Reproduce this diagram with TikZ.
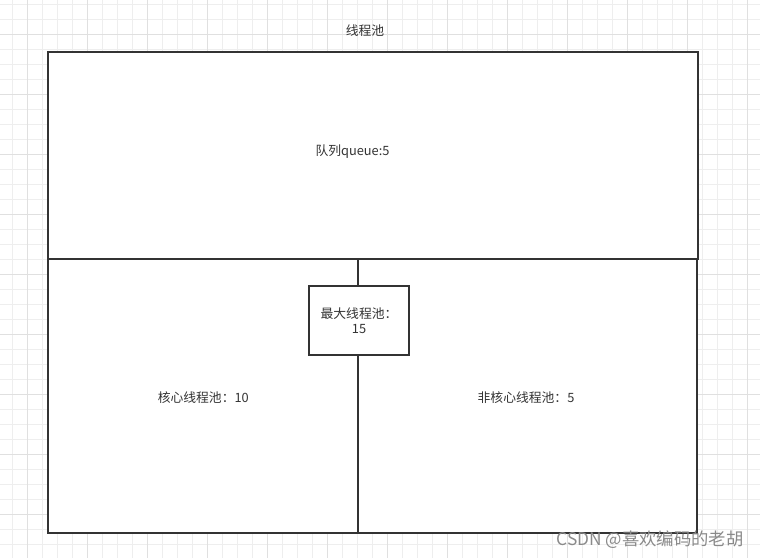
\documentclass[tikz,border=0pt]{standalone}
\usepackage{fontspec}
\setmainfont{Noto Sans CJK SC}
\definecolor{gridminor}{HTML}{EEEEEE}
\definecolor{gridmajor}{HTML}{E0E0E0}
\definecolor{strokec}{HTML}{333333}
\definecolor{textc}{HTML}{333333}
\definecolor{wmark}{HTML}{8A8A8A}
\begin{document}
\begin{tikzpicture}[x=0.75pt,y=-0.75pt,
  boxst/.style={draw=strokec,line width=1.5pt,rectangle,inner sep=0pt,fill=white},
  lbl/.style={text=textc,font=\fontsize{9.6pt}{11.5pt}\selectfont,inner sep=0pt,align=center}]
\useasboundingbox (0,0) rectangle (760,558);
\fill[white] (0,0) rectangle (760,558);
% grid
\foreach \gx in {12.7,27.7,...,760} \draw[gridminor,line width=0.75pt] (\gx,0) -- (\gx,558);
\foreach \gy in {4.3,19.3,...,558} \draw[gridminor,line width=0.75pt] (0,\gy) -- (760,\gy);
\foreach \gx in {27.7,87.7,...,760} \draw[gridmajor,line width=0.75pt] (\gx,0) -- (\gx,558);
\foreach \gy in {34.3,94.3,...,558} \draw[gridmajor,line width=0.75pt] (0,\gy) -- (760,\gy);
% boxes
\node[boxst,minimum width=649.5*0.75pt,minimum height=207*0.75pt] (queue) at (372.75,155.5) {};
\node[boxst,minimum width=310*0.75pt,minimum height=273.5*0.75pt] (core) at (203,395.75) {};
\node[boxst,minimum width=339*0.75pt,minimum height=273.5*0.75pt] (noncore) at (527.5,395.75) {};
\node[boxst,minimum width=100*0.75pt,minimum height=69*0.75pt] (maxp) at (359,320.5) {};
% labels
\node[lbl] (title) at (365,31) {线程池};
\node[lbl] (qlbl) at (352.5,151.5) {队列queue:5};
\node[lbl] (corelbl) at (203.3,397.3) {核心线程池：10};
\node[lbl] (nclbl) at (526,397.3) {非核心线程池：5};
\node[lbl] (maxlbl) at (359,321) {最大线程池：\\15};
\node[text=wmark,font=\fontsize{13pt}{15pt}\selectfont,inner sep=0pt] (wm) at (650,540) {CSDN @喜欢编码的老胡};
\end{tikzpicture}
\end{document}
